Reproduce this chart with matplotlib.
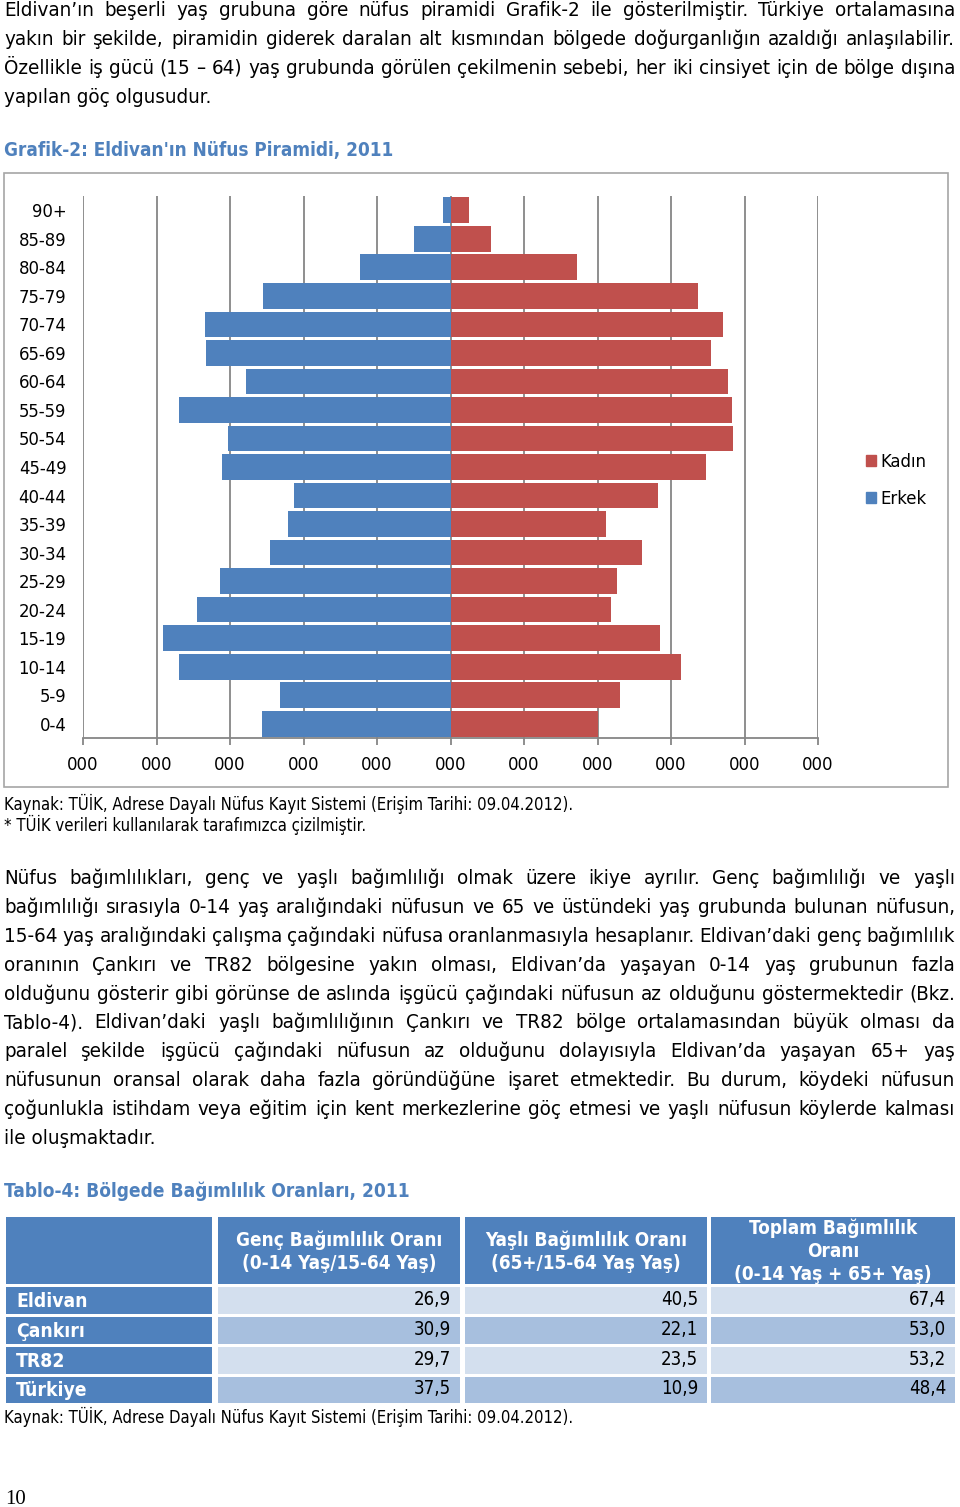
import numpy as np
import matplotlib
matplotlib.use('Agg')
import matplotlib.pyplot as plt
from matplotlib import font_manager as fm
from matplotlib.font_manager import FontProperties
from matplotlib.patches import Rectangle, Patch

# ---- data ----
age_groups = ['0-4', '5-9', '10-14', '15-19', '20-24', '25-29', '30-34', '35-39',
              '40-44', '45-49', '50-54', '55-59', '60-64', '65-69', '70-74',
              '75-79', '80-84', '85-89', '90+']
erkek = [257, 232, 370, 391, 345, 313, 246, 221, 213, 311,
         303, 370, 278, 332, 334, 255, 123, 50, 10]
kadin = [200, 231, 314, 285, 219, 226, 260, 212, 282, 348,
         385, 383, 378, 355, 371, 337, 172, 55, 25]
xtick_values = list(range(-500, 501, 100))
xtick_labels = ['000'] * 11

regions = ['Eldivan', 'Çankırı', 'TR82', 'Türkiye']
genc = [26.9, 30.9, 29.7, 37.5]
yasli = [40.5, 22.1, 23.5, 10.9]
toplam = [67.4, 53.0, 53.2, 48.4]
table_headers = ['Genç Bağımlılık Oranı\n(0-14 Yaş/15-64 Yaş)',
                 'Yaşlı Bağımlılık Oranı\n(65+/15-64 Yaş Yaş)',
                 'Toplam Bağımlılık\nOranı\n(0-14 Yaş + 65+ Yaş)']

para1 = ['Eldivan’ın beşerli yaş grubuna göre nüfus piramidi Grafik-2 ile gösterilmiştir. Türkiye ortalamasına',
         'yakın bir şekilde, piramidin giderek daralan alt kısmından bölgede doğurganlığın azaldığı anlaşılabilir.',
         'Özellikle iş gücü (15 – 64) yaş grubunda görülen çekilmenin sebebi, her iki cinsiyet için de bölge dışına',
         'yapılan göç olgusudur.']
para2 = ['Nüfus bağımlılıkları, genç ve yaşlı bağımlılığı olmak üzere ikiye ayrılır. Genç bağımlılığı ve yaşlı',
         'bağımlılığı sırasıyla 0-14 yaş aralığındaki nüfusun ve 65 ve üstündeki yaş grubunda bulunan nüfusun,',
         '15-64 yaş aralığındaki çalışma çağındaki nüfusa oranlanmasıyla hesaplanır. Eldivan’daki genç bağımlılık',
         'oranının Çankırı ve TR82 bölgesine yakın olması, Eldivan’da yaşayan 0-14 yaş grubunun fazla',
         'olduğunu gösterir gibi görünse de aslında işgücü çağındaki nüfusun az olduğunu göstermektedir (Bkz.',
         'Tablo-4). Eldivan’daki yaşlı bağımlılığının Çankırı ve TR82 bölge ortalamasından büyük olması da',
         'paralel şekilde işgücü çağındaki nüfusun az olduğunu dolayısıyla Eldivan’da yaşayan 65+ yaş',
         'nüfusunun oransal olarak daha fazla göründüğüne işaret etmektedir. Bu durum, köydeki nüfusun',
         'çoğunlukla istihdam veya eğitim için kent merkezlerine göç etmesi ve yaşlı nüfusun köylerde kalması',
         'ile oluşmaktadır.']
kaynak = 'Kaynak: TÜİK, Adrese Dayalı Nüfus Kayıt Sistemi (Erişim Tarihi: 09.04.2012).'

BLUE = '#4f81bd'
RED = '#c0504d'
GRID = '#868686'

# pick a narrow font if there is one
names = {f.name for f in fm.fontManager.ttflist}
if 'Liberation Sans Narrow' in names:
    FAM, STRETCH = 'Liberation Sans Narrow', 'normal'
else:
    FAM, STRETCH = 'DejaVu Sans', 'condensed'


def fp(size, weight='normal'):
    return FontProperties(family=FAM, stretch=STRETCH, weight=weight, size=size)


fig = plt.figure(figsize=(9.6, 15.07), dpi=100)
renderer = fig.canvas.get_renderer()


def width(s, prop):
    return renderer.get_text_width_height_descent(s, prop, ismath=False)[0]


def size_for(s, target, weight='normal'):
    return 10 * target / width(s, fp(10, weight))


page = fig.add_axes([0, 0, 1, 1])
page.set_xlim(0, 960)
page.set_ylim(1507, 0)
page.axis('off')

X0, X1 = 4, 955
body = size_for('yapılan göç olgusudur.', 209)


def paragraph(lines, y0, step=29.0):
    prop = fp(body)
    for i, line in enumerate(lines):
        y = y0 + i * step
        if i == len(lines) - 1:
            page.text(X0, y, line, fontproperties=prop, va='baseline')
            continue
        words = line.split(' ')
        ws = [width(w, prop) for w in words]
        gap = (X1 - X0 - sum(ws)) / (len(words) - 1)
        x = X0
        for w, wd in zip(words, ws):
            page.text(x, y, w, fontproperties=prop, va='baseline')
            x += wd + gap


paragraph(para1, 16)
paragraph(para2, 884, 28.9)

title_size = size_for('Grafik-2: Eldivan\'ın Nüfus Piramidi, 2011', 387, 'bold')
page.text(4, 156, 'Grafik-2: Eldivan\'ın Nüfus Piramidi, 2011', color=BLUE,
          fontproperties=fp(title_size, 'bold'), va='baseline')
src_size = size_for(kaynak, 569)
page.text(4, 810, kaynak, fontproperties=fp(src_size), va='baseline')
page.text(4, 831, '* TÜİK verileri kullanılarak tarafımızca çizilmiştir.',
          fontproperties=fp(src_size), va='baseline')

# chart frame
page.add_patch(Rectangle((4, 173), 944, 614, fill=False, edgecolor='#a6a6a6', lw=1.2))

# ---- pyramid ----
ax = fig.add_axes([83 / 960, 1 - 738 / 1507, 735 / 960, 542 / 1507])
ax.patch.set_alpha(0)
y = np.arange(len(age_groups))
ax.barh(y, -np.array(erkek), height=0.9, color=BLUE, label='Erkek', zorder=2)
ax.barh(y, kadin, height=0.9, color=RED, label='Kadın', zorder=2)
ax.set_xlim(-500, 500)
ax.set_ylim(-0.5, 18.5)
ax.set_xticks(xtick_values)
ax.set_xticklabels(xtick_labels)
ax.set_yticks(y)
ax.set_yticklabels(age_groups)
ax.xaxis.grid(True, color=GRID, lw=1.3)
ax.set_axisbelow(True)
for s in ['top', 'right', 'left']:
    ax.spines[s].set_visible(False)
ax.spines['bottom'].set_color(GRID)
ax.spines['bottom'].set_linewidth(1.3)
ax.tick_params(axis='x', direction='out', length=5, width=1.3, color=GRID, pad=8)
ax.tick_params(axis='y', length=0, pad=12)
tick_size = size_for('85-89', 48)
for lab in ax.get_xticklabels() + ax.get_yticklabels():
    lab.set_fontproperties(fp(tick_size))

leg = ax.legend(handles=[Patch(color=RED, label='Kadın'), Patch(color=BLUE, label='Erkek')],
                loc='upper left', bbox_to_anchor=(866 / 960, 1 - 453 / 1507),
                bbox_transform=fig.transFigure, frameon=False, prop=fp(tick_size),
                handlelength=0.55, handleheight=0.55, handletextpad=0.25,
                labelspacing=1.05, borderpad=0, borderaxespad=0)

# ---- table ----
tt_size = size_for('Tablo-4: Bölgede Bağımlılık Oranları, 2011', 403, 'bold')
page.text(4, 1197, 'Tablo-4: Bölgede Bağımlılık Oranları, 2011', color=BLUE,
          fontproperties=fp(tt_size, 'bold'), va='baseline')

cols = [(6, 212), (218, 460), (465, 707), (711, 955)]
head_y = (1217, 1284)
rows_y = [(1287, 1314), (1317, 1344), (1347, 1374), (1377, 1403)]
row_fill = ['#d3dfee', '#a7bfde', '#d3dfee', '#a7bfde']
head_size = size_for('Genç Bağımlılık Oranı', 204, 'bold')
num_size = size_for('26,9', 37)
lab_size = size_for('Türkiye', 71, 'bold')

for x0, x1 in cols:
    page.add_patch(Rectangle((x0, head_y[0]), x1 - x0, head_y[1] - head_y[0], color=BLUE, lw=0))
for j, h in enumerate(table_headers):
    x0, x1 = cols[j + 1]
    page.text((x0 + x1) / 2, (head_y[0] + head_y[1]) / 2 + 1, h, color='white',
              fontproperties=fp(head_size, 'bold'), ha='center', va='center',
              linespacing=1.25)

for i, reg in enumerate(regions):
    r0, r1 = rows_y[i]
    page.add_patch(Rectangle((cols[0][0], r0), cols[0][1] - cols[0][0], r1 - r0, color=BLUE, lw=0))
    page.text(16, (r0 + r1) / 2 + 1, reg, color='white', fontproperties=fp(lab_size, 'bold'),
              va='center')
    for j, vals in enumerate([genc, yasli, toplam]):
        x0, x1 = cols[j + 1]
        page.add_patch(Rectangle((x0, r0), x1 - x0, r1 - r0, color=row_fill[i], lw=0))
        page.text(x1 - 9, (r0 + r1) / 2 - 1, f'{vals[i]:.1f}'.replace('.', ','),
                  fontproperties=fp(num_size), ha='right', va='center')

page.text(4, 1423, kaynak, fontproperties=fp(src_size), va='baseline')
page.text(5, 1504, '10', family='Liberation Serif', fontsize=15, va='baseline')

fig.savefig('out.png', dpi=100)
